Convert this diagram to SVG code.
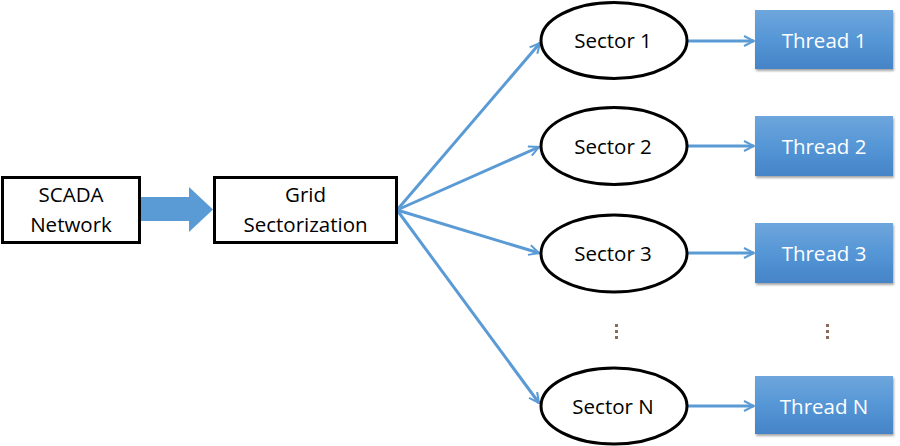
<svg xmlns="http://www.w3.org/2000/svg" width="900" height="446" viewBox="0 0 900 446">
<defs>
<linearGradient id="tg" x1="0" y1="0" x2="0" y2="1">
<stop offset="0" stop-color="#6ea6dc"/>
<stop offset="0.5" stop-color="#5596d6"/>
<stop offset="1" stop-color="#4584c7"/>
</linearGradient>
<filter id="sh" x="-10%" y="-10%" width="130%" height="140%">
<feDropShadow dx="1" dy="2" stdDeviation="1.2" flood-color="#000" flood-opacity="0.35"/>
</filter>
<marker id="ah" viewBox="0 0 12 12" refX="11" refY="6" markerWidth="12" markerHeight="12" markerUnits="userSpaceOnUse" orient="auto">
<path d="M1,1 L11,6 L1,11" fill="none" stroke="#5b9bd5" stroke-width="2"/>
</marker>
</defs>
<style>
text{font-family:"Open Sans","Liberation Sans",sans-serif;font-size:20.5px;text-anchor:middle;dominant-baseline:central}
.box{fill:#fff;stroke:#000;stroke-width:3}
.ell{fill:#fff;stroke:#000;stroke-width:3}
.thr{fill:url(#tg);filter:url(#sh)}
.tt{fill:#fff}
.con{stroke:#5b9bd5;stroke-width:3;fill:none;marker-end:url(#ah)}
.dot{fill:#8a6a5a}
</style>
<rect width="900" height="446" fill="#fff"/>
<g id="connectors">
<path d="M141,197 H189 V187 L213,209.5 L189,232 V221 H141 Z" fill="#5b9bd5"/>
<line class="con" x1="397" y1="210" x2="540" y2="43"/>
<line class="con" x1="397" y1="210" x2="539" y2="147"/>
<line class="con" x1="397" y1="210" x2="539" y2="253"/>
<line class="con" x1="397" y1="210" x2="539" y2="403"/>
<line class="con" x1="688" y1="41" x2="754" y2="41"/>
<line class="con" x1="688" y1="146" x2="754" y2="146"/>
<line class="con" x1="688" y1="253" x2="754" y2="253"/>
<line class="con" x1="688" y1="406" x2="754" y2="406"/>
</g>
<g id="scada">
<rect class="box" x="2.5" y="177.5" width="137" height="65"/>
<text x="71" y="194">SCADA</text>
<text x="71" y="224">Network</text>
</g>
<g id="grid">
<rect class="box" x="214.5" y="177.5" width="182" height="65"/>
<text x="305.5" y="194">Grid</text>
<text x="305.5" y="224">Sectorization</text>
</g>
<g id="sector1"><ellipse class="ell" cx="614" cy="40.5" rx="73" ry="38"/><text x="613" y="40">Sector 1</text></g>
<g id="sector2"><ellipse class="ell" cx="614" cy="146" rx="73" ry="38.5"/><text x="613" y="146">Sector 2</text></g>
<g id="sector3"><ellipse class="ell" cx="614" cy="253.5" rx="73" ry="38.5"/><text x="613" y="253">Sector 3</text></g>
<g id="sectorN"><ellipse class="ell" cx="614" cy="406" rx="73" ry="38"/><text x="613" y="406">Sector N</text></g>
<g id="thread1"><rect class="thr" x="755" y="10" width="138" height="59"/><text class="tt" x="824" y="40">Thread 1</text></g>
<g id="thread2"><rect class="thr" x="755" y="116" width="138" height="60"/><text class="tt" x="824" y="146">Thread 2</text></g>
<g id="thread3"><rect class="thr" x="755" y="223" width="138" height="60"/><text class="tt" x="824" y="253">Thread 3</text></g>
<g id="threadN"><rect class="thr" x="755" y="376" width="138" height="58"/><text class="tt" x="824" y="406">Thread N</text></g>
<g id="dots">
<rect class="dot" x="615" y="324" width="3" height="3"/>
<rect class="dot" x="615" y="330" width="3" height="3"/>
<rect class="dot" x="615" y="336" width="3" height="3"/>
<rect class="dot" x="826" y="324" width="3" height="3"/>
<rect class="dot" x="826" y="330" width="3" height="3"/>
<rect class="dot" x="826" y="336" width="3" height="3"/>
</g>
</svg>
